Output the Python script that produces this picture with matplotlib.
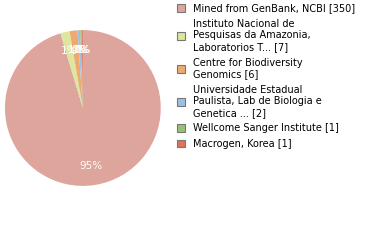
import matplotlib.pyplot as plt
from matplotlib.patches import Patch

labels = ['Mined from GenBank, NCBI [350]',
          'Instituto Nacional de\nPesquisas da Amazonia,\nLaboratorios T... [7]',
          'Centre for Biodiversity\nGenomics [6]',
          'Universidade Estadual\nPaulista, Lab de Biologia e\nGenetica ... [2]',
          'Wellcome Sanger Institute [1]',
          'Macrogen, Korea [1]']
counts = [350, 7, 6, 2, 1, 1]
colors = ['#dea59c', '#dde59f', '#eeaa6e', '#9dbfe0', '#95c372', '#e0735a']

fig = plt.figure(figsize=(3.8, 2.4), dpi=100)
ax = fig.add_axes([0.013, 0.225, 0.41, 0.65])
wedges, texts, autotexts = ax.pie(counts, colors=colors, startangle=90, counterclock=False,
                                  autopct=lambda p: '%d%%' % int(p), pctdistance=0.75,
                                  textprops=dict(color='white', fontsize=7.5))
ax.set_xlim(-1, 1)
ax.set_ylim(-1, 1)
ax.set_aspect('equal')

handles = [Patch(facecolor=c, edgecolor='#777777', linewidth=0.8) for c in colors]
fig.legend(handles, labels, loc='upper left', bbox_to_anchor=(0.45, 1.01), frameon=False,
           fontsize=7, handlelength=0.8, handleheight=0.8, handletextpad=0.9,
           labelspacing=0.56, borderaxespad=0.2)

fig.savefig('out.png', dpi=100)
